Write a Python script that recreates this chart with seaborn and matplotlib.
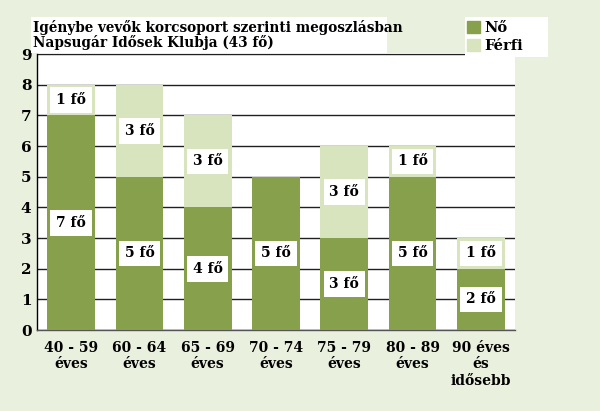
import matplotlib
matplotlib.use("Agg")
import matplotlib.pyplot as plt
import matplotlib.patches as mpatches
import seaborn as sns
import pandas as pd
import numpy as np

categories = ["40 - 59\néves", "60 - 64\néves", "65 - 69\néves", "70 - 74\néves",
              "75 - 79\néves", "80 - 89\néves", "90 éves\nés\nidősebb"]
no_values = [7, 5, 4, 5, 3, 5, 2]
ferfi_values = [1, 3, 3, 0, 3, 1, 1]
title_lines = ["Igénybe vevők korcsoport szerinti megoszlásban", "Napsugár Idősek Klubja (43 fő)"]
series_names = ["Nő", "Férfi"]
unit = "fő"

C_NO = "#87A04B"
C_FERFI = "#D7E4BD"
BG = "#EAF0DE"

sns.set_style("white")
plt.rcParams['font.family'] = ['DejaVu Serif']
plt.rcParams['font.weight'] = 'bold'
plt.rcParams['text.color'] = 'black'
plt.rcParams['xtick.color'] = 'black'
plt.rcParams['ytick.color'] = 'black'
plt.rcParams['xtick.labelcolor'] = 'black'
plt.rcParams['ytick.labelcolor'] = 'black'

df = pd.DataFrame({"cat": categories, "no": no_values, "ferfi": ferfi_values})
df["total"] = df["no"] + df["ferfi"]

fig = plt.figure(figsize=(6.0, 4.11), dpi=100, facecolor=BG)
ax = fig.add_axes([37/600, 1-330/411, (515-37)/600, (330-54)/411])
ax.set_facecolor("white")

sns.barplot(data=df, x="cat", y="total", color=C_FERFI, saturation=1, width=0.7,
            linewidth=0, edgecolor="none", ax=ax, zorder=3)
sns.barplot(data=df, x="cat", y="no", color=C_NO, saturation=1, width=0.7,
            linewidth=0, edgecolor="none", ax=ax, zorder=3)

ax.set_ylim(0, 9)
ax.set_xlim(-0.5, len(categories) - 0.5)
ax.set_yticks(range(0, 10))
ax.yaxis.grid(True, color="#202020", lw=1.0, zorder=1)
ax.set_axisbelow(True)
ax.set_xlabel("")
ax.set_ylabel("")
for s in ["top", "right"]:
    ax.spines[s].set_visible(False)
ax.spines["left"].set_color("black")
ax.spines["bottom"].set_color("#555555")
ax.spines["left"].set_linewidth(1.0)
ax.spines["bottom"].set_linewidth(1.0)

ax.set_xticks(range(len(categories)))
ax.set_xticklabels(categories, fontsize=10, fontweight="bold")
ax.tick_params(axis="x", which="major", length=0, pad=8)
ax.set_xticks(np.arange(-0.5, len(categories)), minor=True)
ax.tick_params(axis="x", which="minor", length=5, direction="out", width=1, color="#333333")
ax.tick_params(axis="y", length=4, direction="inout", width=1, labelsize=11, pad=2)
for lab in ax.get_yticklabels():
    lab.set_fontweight("bold")

for i, (n, f) in enumerate(zip(no_values, ferfi_values)):
    bb = dict(boxstyle="square,pad=0.42", fc="white", ec="none")
    if n > 0:
        ax.text(i, n / 2, f"{n} {unit}", ha="center", va="center", fontsize=10,
                fontweight="bold", bbox=bb, zorder=5)
    if f > 0:
        ax.text(i, n + f / 2, f"{f} {unit}", ha="center", va="center", fontsize=10,
                fontweight="bold", bbox=bb, zorder=5)

# title box
fig.patches.append(mpatches.Rectangle((31/600, 1-53/411), (387-31)/600, 36/411,
                                      transform=fig.transFigure, fc="white", ec="none", zorder=10))
fig.text(33/600, 1-20/411, "\n".join(title_lines), ha="left", va="top", fontsize=9.8,
         fontweight="bold", linespacing=1.0, zorder=11)

# legend box
fig.patches.append(mpatches.Rectangle((465/600, 1-57/411), (548-465)/600, 40/411,
                                      transform=fig.transFigure, fc="white", ec="none", zorder=10))
handles = [mpatches.Patch(color=C_NO, label=series_names[0]),
           mpatches.Patch(color=C_FERFI, label=series_names[1])]
leg = fig.legend(handles=handles, loc="upper left", bbox_to_anchor=(463/600, 1-17/411),
                 frameon=False, fontsize=10.5, handlelength=0.9, handleheight=0.9,
                 handletextpad=0.3, borderpad=0.25, labelspacing=0.3, borderaxespad=0)
leg.set_zorder(12)
for t in leg.get_texts():
    t.set_fontweight("bold")

fig.savefig("out.png", dpi=100, facecolor=BG)
